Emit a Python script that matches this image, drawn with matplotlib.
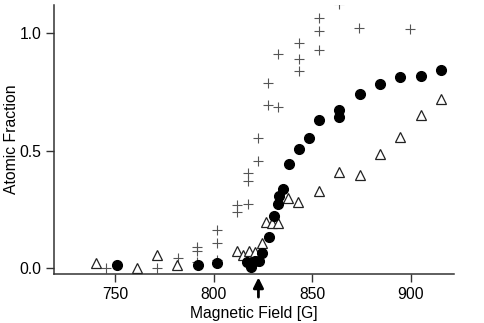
import matplotlib
matplotlib.use("Agg")
import matplotlib.pyplot as plt

plt.rcParams["font.family"] = ["Liberation Sans", "DejaVu Sans"]

# filled circles
circle_field = [751.0, 791.9, 801.9, 816.8, 819.0, 821.0, 823.0, 824.7, 827.9,
                830.8, 832.8, 833.2, 834.9, 838.3, 843.2, 848.4, 853.6, 863.7,
                863.7, 874.1, 884.4, 894.5, 905.0, 915.3]
circle_frac = [0.014, 0.014, 0.021, 0.026, 0.004, 0.031, 0.032, 0.066, 0.134,
               0.223, 0.272, 0.308, 0.336, 0.444, 0.508, 0.552, 0.632, 0.673,
               0.643, 0.743, 0.784, 0.813, 0.818, 0.844]

# open triangles
tri_field = [740.4, 761.0, 771.5, 781.6, 812.0, 814.8, 818.1, 821.0, 824.7,
             826.6, 829.5, 832.8, 837.9, 843.0, 853.6, 863.7, 874.1, 884.4,
             894.5, 905.0, 915.3]
tri_frac = [0.021, 0.000, 0.057, 0.012, 0.073, 0.057, 0.074, 0.071, 0.109,
            0.198, 0.191, 0.191, 0.298, 0.283, 0.329, 0.408, 0.398, 0.485,
            0.556, 0.652, 0.719]

# crosses
plus_field = [745.4, 771.5, 782.1, 791.7, 791.7, 791.7, 801.9, 801.9, 801.9,
              812.0, 812.0, 817.6, 817.6, 817.6, 822.7, 822.7, 827.7, 827.7,
              832.8, 832.8, 843.2, 843.2, 843.2, 853.4, 853.4, 853.4, 863.7,
              873.9, 899.6]
plus_frac = [0.000, 0.003, 0.043, 0.089, 0.074, 0.025, 0.164, 0.108, 0.035,
             0.269, 0.240, 0.274, 0.404, 0.369, 0.454, 0.553, 0.694, 0.787,
             0.686, 0.912, 0.838, 0.888, 0.959, 0.926, 1.009, 1.064, 1.123,
             1.021, 1.018]

x_ticks = [750, 800, 850, 900]
y_ticks = [0.0, 0.5, 1.0]
arrow_field = 822.7

fig = plt.figure(figsize=(4.85, 3.23), dpi=100)
ax = fig.add_axes([0.111, 0.151, 0.825, 0.834])

ax.plot(plus_field, plus_frac, linestyle="none", marker="+",
        markersize=7, markeredgewidth=0.8, color="#555555", zorder=2)
ax.plot(tri_field, tri_frac, linestyle="none", marker="^",
        markersize=7.5, markerfacecolor="white", markeredgecolor="#222222",
        markeredgewidth=0.9, zorder=3)
ax.plot(circle_field, circle_frac, linestyle="none", marker="o",
        markersize=7, color="black", zorder=4)

ax.set_xlim(719, 921.8)
ax.set_ylim(-0.0255, 1.12)
ax.set_xticks(x_ticks)
ax.set_xticklabels([str(t) for t in x_ticks])
ax.set_yticks(y_ticks)
ax.set_yticklabels([f"{t:.1f}" for t in y_ticks])

for side in ["top", "right"]:
    ax.spines[side].set_visible(False)
for side in ["left", "bottom"]:
    ax.spines[side].set_linewidth(1.1)
    ax.spines[side].set_color("#333333")

ax.tick_params(direction="out", length=6, width=1.0, color="#333333",
               labelsize=11.3, pad=3)

ax.set_xlabel("Magnetic Field [G]", fontsize=11.3, labelpad=3)
ax.set_ylabel("Atomic Fraction", fontsize=11.3)
ax.yaxis.set_label_coords(-0.087, 0.5)

ax.annotate("", xy=(arrow_field, -0.012), xytext=(arrow_field, -0.085),
            xycoords=("data", "axes fraction"),
            textcoords=("data", "axes fraction"),
            arrowprops=dict(arrowstyle="-|>,head_width=0.3,head_length=0.6",
                            color="black", lw=2, shrinkA=0, shrinkB=0),
            annotation_clip=False)

fig.savefig("out.png", dpi=100)
plt.close(fig)
